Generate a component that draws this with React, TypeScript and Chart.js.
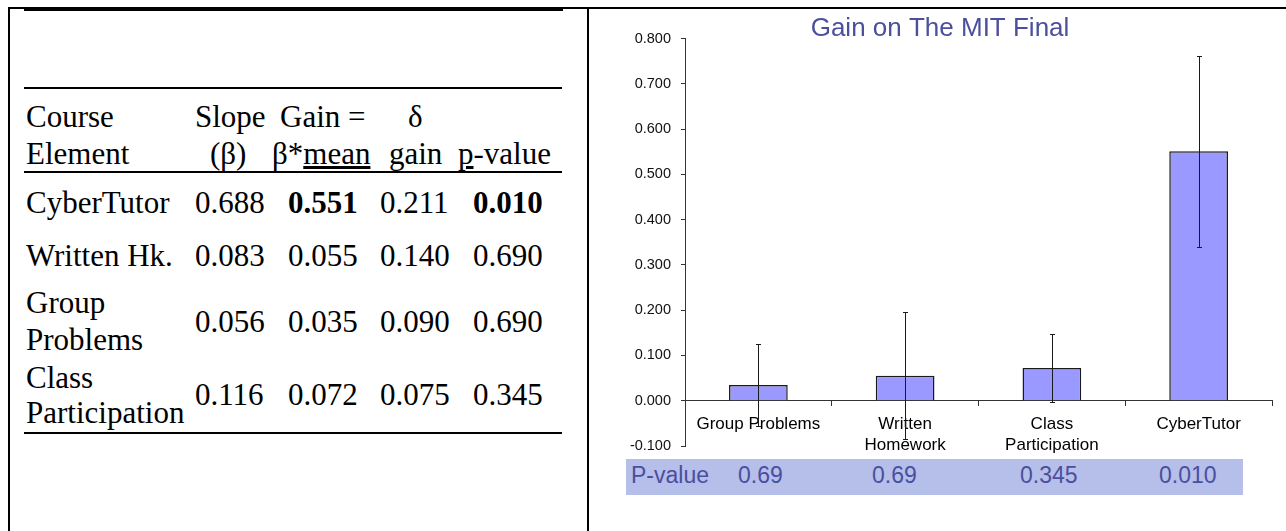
import React, { useEffect, useRef } from 'react';
import { Chart, registerables } from 'chart.js';

Chart.register(...registerables);

// ---------- Chart data ----------
const categories: string[][] = [['Group Problems'], ['Written', 'Homework'], ['Class', 'Participation'], ['CyberTutor']];
const gains = [0.035, 0.055, 0.072, 0.551];
const deltas = [0.09, 0.14, 0.075, 0.211];
const pValueTitle = 'P-value';
const pValueLabels = ['0.69', '0.69', '0.345', '0.010'];
const chartTitle = 'Gain on The MIT Final';
const yMin = -0.1;
const yMax = 0.8;
const yStep = 0.1;

// ---------- Table data ----------
const tableHeadTop = ['Course', 'Slope', 'Gain =', 'δ'];
const tableElementLines: string[][] = [['CyberTutor'], ['Written Hk.'], ['Group', 'Problems'], ['Class', 'Participation']];
const tableSlopes = ['0.688', '0.083', '0.056', '0.116'];
const tableGains = ['0.551', '0.055', '0.035', '0.072'];
const tableDeltas = ['0.211', '0.140', '0.090', '0.075'];
const tablePValues = ['0.010', '0.690', '0.690', '0.345'];
const tableBold = [true, false, false, false];

// ---------- layout constants ----------
const SERIF = '"Liberation Serif", "Times New Roman", serif';
const SANS = '"Liberation Sans", Arial, sans-serif';
const TITLE_COLOR = '#4B4F9C';
const rowBaselines = [213, 266, 332, 405];
const elementLineBaselines: number[][] = [[213], [266], [313, 350], [388, 423]];
const numColLefts = [195, 288, 380, 473];
const pValueLefts = [738, 872, 1020, 1159];

const errorBarPlugin = {
  id: 'errorBars',
  afterDatasetsDraw(chart: any) {
    const ctx = chart.ctx;
    const meta = chart.getDatasetMeta(0);
    const y = chart.scales.y;
    ctx.save();
    ctx.strokeStyle = '#1a1a1a';
    ctx.lineWidth = 1;
    meta.data.forEach((bar: any, i: number) => {
      const x = Math.round(bar.x) + 0.5;
      const top = Math.round(y.getPixelForValue(gains[i] + deltas[i])) + 0.5;
      const bot = Math.round(y.getPixelForValue(gains[i] - deltas[i])) + 0.5;
      ctx.beginPath();
      ctx.moveTo(x, top);
      ctx.lineTo(x, bot);
      ctx.moveTo(x - 2.5, top);
      ctx.lineTo(x + 2.5, top);
      ctx.moveTo(x - 2.5, bot);
      ctx.lineTo(x + 2.5, bot);
      ctx.stroke();
    });
    ctx.restore();
  },
};

function SerifText(props: { x: number; base: number; children: React.ReactNode; bold?: boolean }) {
  return (
    <div
      style={{
        position: 'absolute',
        left: props.x,
        top: props.base - 26,
        fontFamily: SERIF,
        fontSize: 31,
        lineHeight: '31px',
        whiteSpace: 'nowrap',
        fontWeight: props.bold ? 'bold' : 'normal',
        color: '#000',
      }}
    >
      {props.children}
    </div>
  );
}

function Rule(props: { x: number; y: number; w: number; h: number }) {
  return <div style={{ position: 'absolute', left: props.x, top: props.y, width: props.w, height: props.h, background: '#000' }} />;
}

function BarChart() {
  const ref = useRef<HTMLCanvasElement | null>(null);
  useEffect(() => {
    if (!ref.current) return;
    const chart = new Chart(ref.current, {
      type: 'bar',
      data: {
        labels: categories,
        datasets: [
          {
            data: gains,
            backgroundColor: '#9999FF',
            borderColor: '#1a1a1a',
            borderWidth: 1.5,
            barPercentage: 0.4,
            categoryPercentage: 1,
          },
        ],
      },
      options: {
        animation: false,
        responsive: false,
        layout: { padding: { left: 0, right: 14, top: 0, bottom: 24 } },
        plugins: {
          legend: { display: false },
          tooltip: { enabled: false },
          title: {
            display: true,
            text: chartTitle,
            color: TITLE_COLOR,
            font: { family: SANS, size: 26, weight: 'normal', lineHeight: 0.75 },
            padding: { top: 19, bottom: 0 },
          },
        },
        scales: {
          x: {
            position: { y: 0 } as any,
            offset: true,
            grid: { display: true, drawOnChartArea: false, offset: true, tickLength: 5, color: '#333' },
            border: { display: true, color: '#333', width: 1 },
            ticks: { color: '#000', font: { family: SANS, size: 17, lineHeight: 1.23 }, padding: 8, maxRotation: 0, autoSkip: false },
            afterFit(scale: any) {
              scale.height = 0;
            },
          },
          y: {
            min: yMin,
            max: yMax,
            grid: { display: true, drawOnChartArea: false, tickLength: 4, color: '#333' },
            border: { display: true, color: '#333', width: 1 },
            ticks: {
              stepSize: yStep,
              color: '#111',
              font: { family: SANS, size: 14.5 },
              padding: 10,
              callback: (v: any) => Number(v).toFixed(3),
            },
            afterFit(scale: any) {
              scale.width = 77;
            },
          },
        },
      },
      plugins: [errorBarPlugin],
    });
    return () => chart.destroy();
  }, []);
  return (
    <canvas
      ref={ref}
      width={678}
      height={470}
      style={{ position: 'absolute', left: 608, top: 0, width: 678, height: 470, display: 'block' }}
    />
  );
}

export default function App() {
  return (
    <div style={{ position: 'absolute', left: 0, top: 0, width: 1286, height: 531, background: '#fff', overflow: 'hidden' }}>
      {/* frame */}
      <Rule x={8} y={7} w={1278} h={2} />
      <Rule x={8} y={7} w={2} h={524} />
      <Rule x={587} y={7} w={2} h={524} />

      {/* table rules */}
      <Rule x={24} y={7} w={539} h={4} />
      <Rule x={24} y={87} w={538} h={2} />
      <Rule x={24} y={171} w={538} h={2} />
      <Rule x={24} y={432} w={538} h={2} />

      {/* header */}
      <SerifText x={26} base={127}>{tableHeadTop[0]}</SerifText>
      <SerifText x={195} base={127}>{tableHeadTop[1]}</SerifText>
      <SerifText x={280} base={127}>{tableHeadTop[2]}</SerifText>
      <SerifText x={408} base={127}>{tableHeadTop[3]}</SerifText>
      <SerifText x={26} base={164}>Element</SerifText>
      <SerifText x={210} base={164}>(β)</SerifText>
      <SerifText x={272} base={164}>
        β*<span style={{ textDecoration: 'underline' }}>mean</span>
      </SerifText>
      <SerifText x={389} base={164}>gain</SerifText>
      <SerifText x={458} base={164}>
        <span style={{ textDecoration: 'underline' }}>p</span>-value
      </SerifText>

      {/* rows */}
      {tableElementLines.map((lines, r) =>
        lines.map((ln, k) => (
          <SerifText key={'e' + r + '-' + k} x={26} base={elementLineBaselines[r][k]}>
            {ln}
          </SerifText>
        ))
      )}
      {tableSlopes.map((v, r) => (
        <SerifText key={'s' + r} x={numColLefts[0]} base={rowBaselines[r]}>{v}</SerifText>
      ))}
      {tableGains.map((v, r) => (
        <SerifText key={'g' + r} x={numColLefts[1]} base={rowBaselines[r]} bold={tableBold[r]}>{v}</SerifText>
      ))}
      {tableDeltas.map((v, r) => (
        <SerifText key={'d' + r} x={numColLefts[2]} base={rowBaselines[r]}>{v}</SerifText>
      ))}
      {tablePValues.map((v, r) => (
        <SerifText key={'p' + r} x={numColLefts[3]} base={rowBaselines[r]} bold={tableBold[r]}>{v}</SerifText>
      ))}

      {/* chart */}
      <BarChart />

      {/* p-value band */}
      <div style={{ position: 'absolute', left: 626, top: 459, width: 617, height: 36, background: '#B6BEEA' }} />
      {[pValueTitle, ...pValueLabels].map((t, i) => (
        <div
          key={'pv' + i}
          style={{
            position: 'absolute',
            left: i === 0 ? 631 : pValueLefts[i - 1],
            top: 464,
            fontFamily: SANS,
            fontSize: 23,
            lineHeight: '23px',
            color: TITLE_COLOR,
            whiteSpace: 'nowrap',
          }}
        >
          {t}
        </div>
      ))}
    </div>
  );
}
